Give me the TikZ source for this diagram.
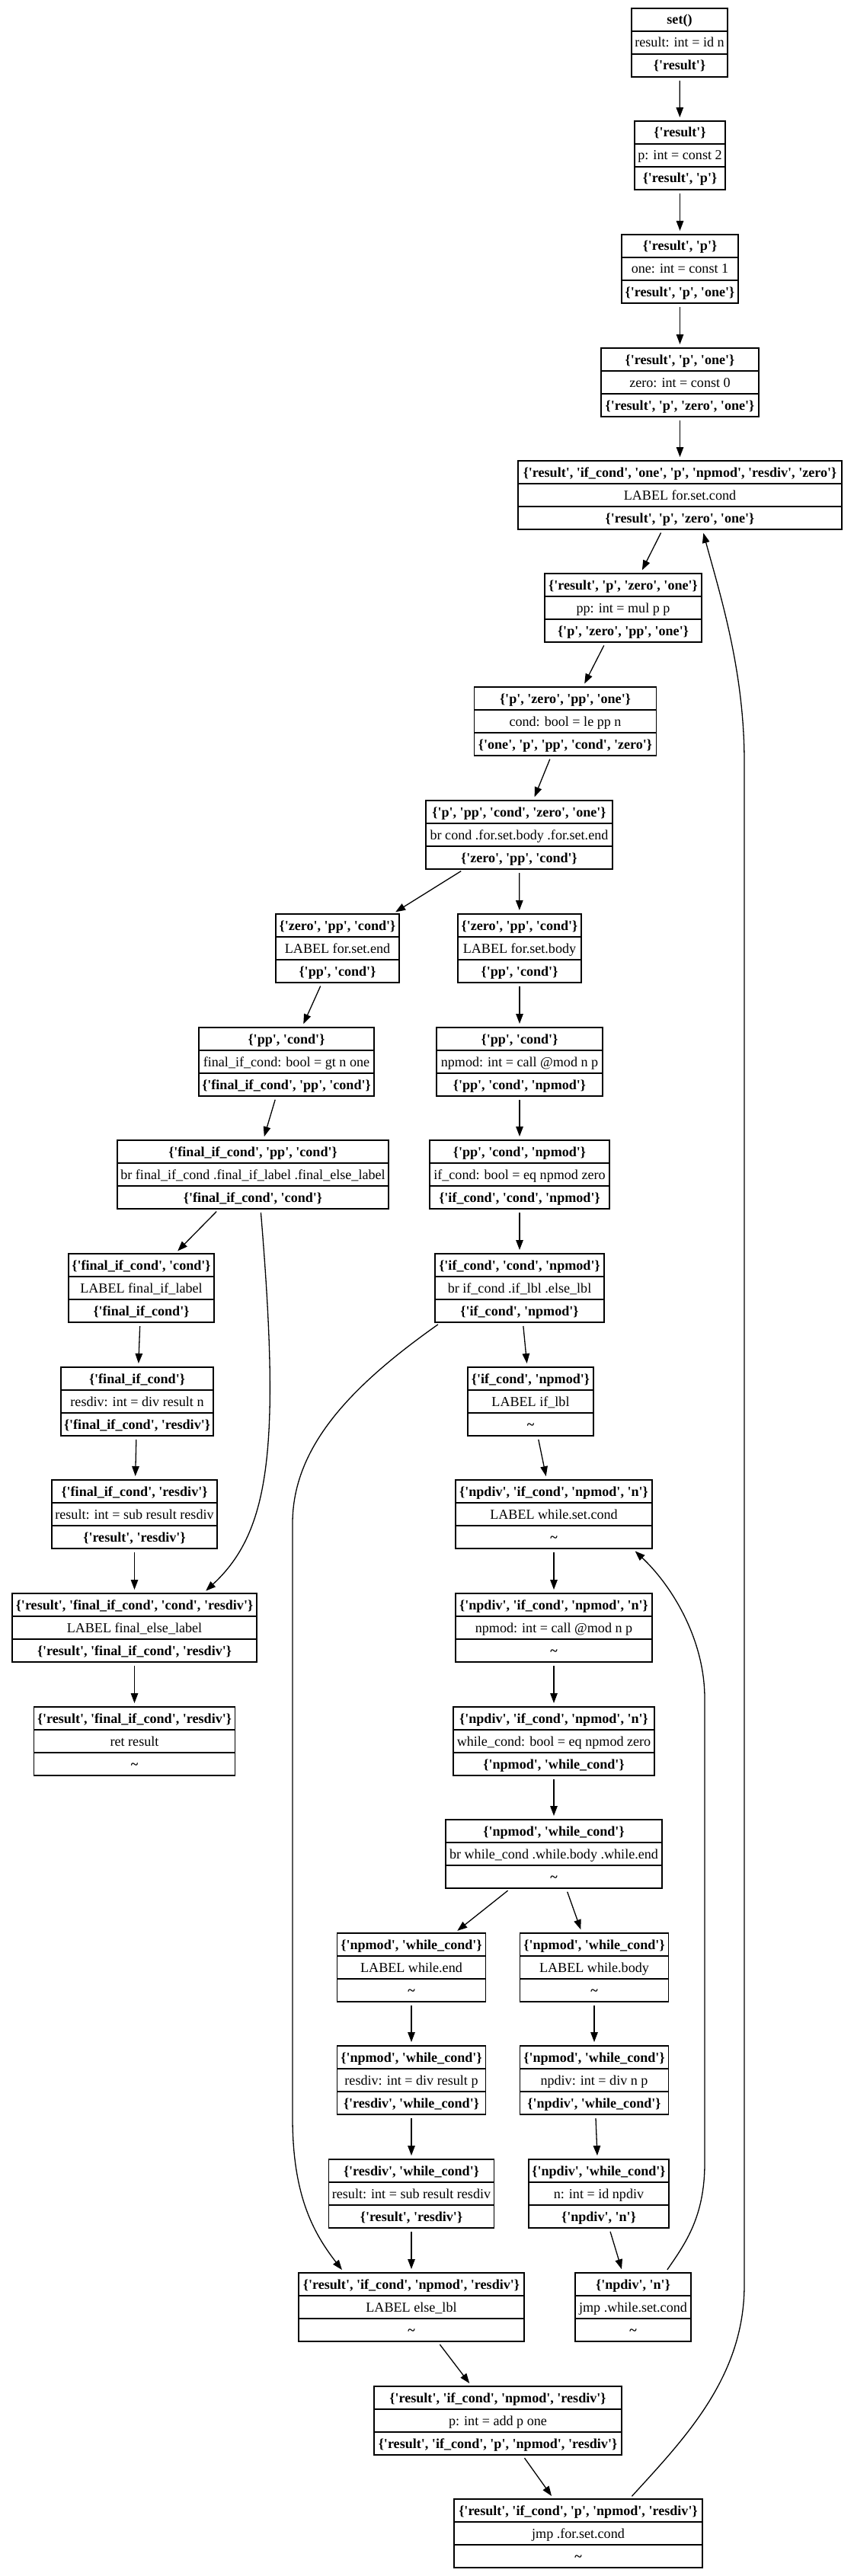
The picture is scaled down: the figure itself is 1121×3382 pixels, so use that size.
\documentclass[tikz,border=0pt]{standalone}
\usepackage{fontspec}
\setmainfont{Liberation Serif}
\usetikzlibrary{arrows.meta}
\newcommand{\qv}[1]{\textquotesingle#1\textquotesingle}
\tikzset{
 blk/.style={draw=black, line width=1.3pt, minimum height=90pt, inner sep=0pt, outer sep=0pt},
 sepline/.style={line width=1.5pt},
 rowb/.style={font=\fontsize{18.1}{21}\selectfont\bfseries, inner sep=0pt, anchor=base},
 rowr/.style={font=\fontsize{18.1}{21}\selectfont, inner sep=0pt, anchor=base},
 edge/.style={line width=1.3pt, -{Triangle[length=13pt,width=9.5pt]}, shorten <=5pt, shorten >=5pt},
}
% name, center x, top y, width, top row, middle row, bottom row
\newcommand{\cfgnode}[7]{%
 \node[blk, minimum width=#4pt, anchor=north] (#1) at (#2,#3) {};
 \draw[sepline] ([yshift=-30pt]#1.north west) -- ([yshift=-30pt]#1.north east);
 \draw[sepline] ([yshift=-60pt]#1.north west) -- ([yshift=-60pt]#1.north east);
 \node[rowb] (#1a) at ([yshift=-21pt]#1.north) {#5};
 \node[rowr] (#1b) at ([yshift=-51pt]#1.north) {#6};
 \node[rowb] (#1c) at ([yshift=-81pt]#1.north) {#7};
}
\begin{document}
\begin{tikzpicture}[x=1pt,y=-1pt]
\useasboundingbox[fill=white] (0,0) rectangle (1121,3382);

\cfgnode{n1}{892}{11}{126}{set()}{result: int = id n}{\{\qv{result}\}}
\cfgnode{n2}{892.5}{159}{119}{\{\qv{result}\}}{p: int = const 2}{\{\qv{result}, \qv{p}\}}
\cfgnode{n3}{892.5}{308}{153}{\{\qv{result}, \qv{p}\}}{one: int = const 1}{\{\qv{result}, \qv{p}, \qv{one}\}}
\cfgnode{n4}{892.5}{457}{207}{\{\qv{result}, \qv{p}, \qv{one}\}}{zero: int = const 0}{\{\qv{result}, \qv{p}, \qv{zero}, \qv{one}\}}
\cfgnode{n5}{892.5}{605}{425}{\{\qv{result}, \qv{if\_cond}, \qv{one}, \qv{p}, \qv{npmod}, \qv{resdiv}, \qv{zero}\}}{LABEL for.set.cond}{\{\qv{result}, \qv{p}, \qv{zero}, \qv{one}\}}
\cfgnode{n6}{818}{753}{206}{\{\qv{result}, \qv{p}, \qv{zero}, \qv{one}\}}{pp: int = mul p p}{\{\qv{p}, \qv{zero}, \qv{pp}, \qv{one}\}}
\cfgnode{n7}{742}{902}{239}{\{\qv{p}, \qv{zero}, \qv{pp}, \qv{one}\}}{cond: bool = le pp n}{\{\qv{one}, \qv{p}, \qv{pp}, \qv{cond}, \qv{zero}\}}
\cfgnode{n8}{681.5}{1051}{245}{\{\qv{p}, \qv{pp}, \qv{cond}, \qv{zero}, \qv{one}\}}{br cond .for.set.body .for.set.end}{\{\qv{zero}, \qv{pp}, \qv{cond}\}}
\cfgnode{n9}{443}{1200}{162}{\{\qv{zero}, \qv{pp}, \qv{cond}\}}{LABEL for.set.end}{\{\qv{pp}, \qv{cond}\}}
\cfgnode{n10}{682}{1200}{162}{\{\qv{zero}, \qv{pp}, \qv{cond}\}}{LABEL for.set.body}{\{\qv{pp}, \qv{cond}\}}
\cfgnode{n11}{376}{1349}{230}{\{\qv{pp}, \qv{cond}\}}{final\_if\_cond: bool = gt n one}{\{\qv{final\_if\_cond}, \qv{pp}, \qv{cond}\}}
\cfgnode{n12}{682}{1349}{218}{\{\qv{pp}, \qv{cond}\}}{npmod: int = call @mod n p}{\{\qv{pp}, \qv{cond}, \qv{npmod}\}}
\cfgnode{n13}{332}{1497}{356}{\{\qv{final\_if\_cond}, \qv{pp}, \qv{cond}\}}{br final\_if\_cond .final\_if\_label .final\_else\_label}{\{\qv{final\_if\_cond}, \qv{cond}\}}
\cfgnode{n14}{682}{1497}{236}{\{\qv{pp}, \qv{cond}, \qv{npmod}\}}{if\_cond: bool = eq npmod zero}{\{\qv{if\_cond}, \qv{cond}, \qv{npmod}\}}
\cfgnode{n15}{185.5}{1646}{191}{\{\qv{final\_if\_cond}, \qv{cond}\}}{LABEL final\_if\_label}{\{\qv{final\_if\_cond}\}}
\cfgnode{n16}{682}{1646}{222}{\{\qv{if\_cond}, \qv{cond}, \qv{npmod}\}}{br if\_cond .if\_lbl .else\_lbl}{\{\qv{if\_cond}, \qv{npmod}\}}
\cfgnode{n17}{180}{1795}{200}{\{\qv{final\_if\_cond}\}}{resdiv: int = div result n}{\{\qv{final\_if\_cond}, \qv{resdiv}\}}
\cfgnode{n18}{696.5}{1795}{165}{\{\qv{if\_cond}, \qv{npmod}\}}{LABEL if\_lbl}{\textasciitilde}
\cfgnode{n19}{176.5}{1943}{217}{\{\qv{final\_if\_cond}, \qv{resdiv}\}}{result: int = sub result resdiv}{\{\qv{result}, \qv{resdiv}\}}
\cfgnode{n20}{727}{1943}{258}{\{\qv{npdiv}, \qv{if\_cond}, \qv{npmod}, \qv{n}\}}{LABEL while.set.cond}{\textasciitilde}
\cfgnode{n21}{176.5}{2092}{321}{\{\qv{result}, \qv{final\_if\_cond}, \qv{cond}, \qv{resdiv}\}}{LABEL final\_else\_label}{\{\qv{result}, \qv{final\_if\_cond}, \qv{resdiv}\}}
\cfgnode{n22}{727}{2092}{258}{\{\qv{npdiv}, \qv{if\_cond}, \qv{npmod}, \qv{n}\}}{npmod: int = call @mod n p}{\textasciitilde}
\cfgnode{n23}{176.5}{2241}{264}{\{\qv{result}, \qv{final\_if\_cond}, \qv{resdiv}\}}{ret result}{\textasciitilde}
\cfgnode{n24}{727}{2241}{264}{\{\qv{npdiv}, \qv{if\_cond}, \qv{npmod}, \qv{n}\}}{while\_cond: bool = eq npmod zero}{\{\qv{npmod}, \qv{while\_cond}\}}
\cfgnode{n25}{727}{2389}{284}{\{\qv{npmod}, \qv{while\_cond}\}}{br while\_cond .while.body .while.end}{\textasciitilde}
\cfgnode{n26}{540}{2538}{195}{\{\qv{npmod}, \qv{while\_cond}\}}{LABEL while.end}{\textasciitilde}
\cfgnode{n27}{780}{2538}{195}{\{\qv{npmod}, \qv{while\_cond}\}}{LABEL while.body}{\textasciitilde}
\cfgnode{n28}{540}{2686}{195}{\{\qv{npmod}, \qv{while\_cond}\}}{resdiv: int = div result p}{\{\qv{resdiv}, \qv{while\_cond}\}}
\cfgnode{n29}{780}{2686}{195}{\{\qv{npmod}, \qv{while\_cond}\}}{npdiv: int = div n p}{\{\qv{npdiv}, \qv{while\_cond}\}}
\cfgnode{n30}{540}{2835}{217}{\{\qv{resdiv}, \qv{while\_cond}\}}{result: int = sub result resdiv}{\{\qv{result}, \qv{resdiv}\}}
\cfgnode{n31}{786}{2835}{184}{\{\qv{npdiv}, \qv{while\_cond}\}}{n: int = id npdiv}{\{\qv{npdiv}, \qv{n}\}}
\cfgnode{n32}{540}{2984}{296}{\{\qv{result}, \qv{if\_cond}, \qv{npmod}, \qv{resdiv}\}}{LABEL else\_lbl}{\textasciitilde}
\cfgnode{n33}{831}{2984}{152}{\{\qv{npdiv}, \qv{n}\}}{jmp .while.set.cond}{\textasciitilde}
\cfgnode{n34}{653.5}{3133}{325}{\{\qv{result}, \qv{if\_cond}, \qv{npmod}, \qv{resdiv}\}}{p: int = add p one}{\{\qv{result}, \qv{if\_cond}, \qv{p}, \qv{npmod}, \qv{resdiv}\}}
\cfgnode{n35}{759}{3281}{326}{\{\qv{result}, \qv{if\_cond}, \qv{p}, \qv{npmod}, \qv{resdiv}\}}{jmp .for.set.cond}{\textasciitilde}

% straight edges
\draw[edge] (n1) -- (n2);
\draw[edge] (n2) -- (n3);
\draw[edge] (n3) -- (n4);
\draw[edge] (n4) -- (n5);
\draw[edge] (n5) -- (n6);
\draw[edge] (n6) -- (n7);
\draw[edge] (n7) -- (n8);
\draw[edge] (n8) -- (n9);
\draw[edge] (n8) -- (n10);
\draw[edge] (n9) -- (n11);
\draw[edge] (n10) -- (n12);
\draw[edge] (n11) -- (n13);
\draw[edge] (n12) -- (n14);
\draw[edge] (n13) -- (n15);
\draw[edge] (n14) -- (n16);
\draw[edge] (n15) -- (n17);
\draw[edge] (n16) -- (n18);
\draw[edge] (n17) -- (n19);
\draw[edge] (n18) -- (n20);
\draw[edge] (n19) -- (n21);
\draw[edge] (n20) -- (n22);
\draw[edge] (n21) -- (n23);
\draw[edge] (n22) -- (n24);
\draw[edge] (n24) -- (n25);
\draw[edge] (n25) -- (n26);
\draw[edge] (n25) -- (n27);
\draw[edge] (n26) -- (n28);
\draw[edge] (n27) -- (n29);
\draw[edge] (n28) -- (n30);
\draw[edge] (n29) -- (n31);
\draw[edge] (n30) -- (n32);
\draw[edge] (n31) -- (n33);
\draw[edge] (n32) -- (n34);
\draw[edge] (n34) -- (n35);

% curved edges
\draw[edge] ([xshift=10pt]n13.south) .. controls (368,1900) and (355,2010) .. ([xshift=90pt]n21.north);
\draw[edge] ([xshift=-103pt]n16.south) .. controls (460,1820) and (384,1900) .. (384,2000)
  -- (384,2780) .. controls (384,2880) and (410,2930) .. ([xshift=-88pt]n32.north);
\draw[edge] ([xshift=42pt]n33.north) .. controls (900,2945) and (925,2910) .. (925,2840)
  -- (925,2230) .. controls (925,2150) and (880,2080) .. ([xshift=103pt]n20.south);
\draw[edge] ([xshift=67pt]n35.north) .. controls (900,3200) and (977,3120) .. (977,3000)
  -- (977,1000) .. controls (977,880) and (945,780) .. ([xshift=29.5pt]n5.south);
\end{tikzpicture}
\end{document}
